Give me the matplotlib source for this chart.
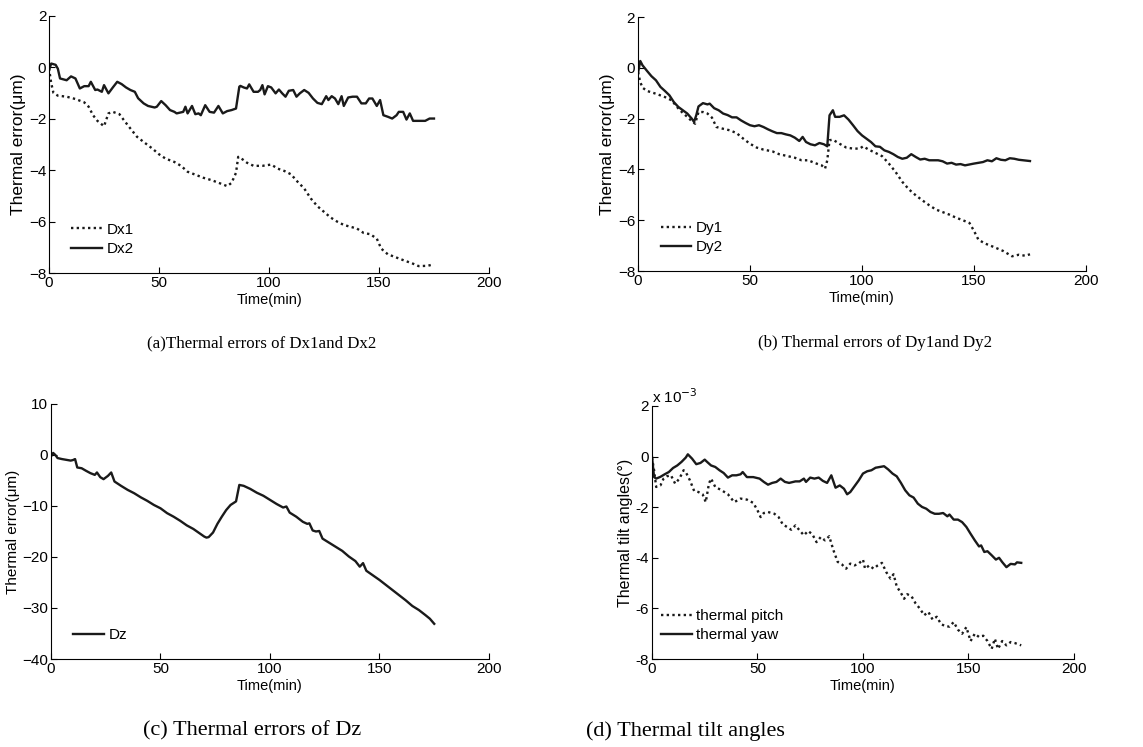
import numpy as np
import matplotlib
matplotlib.use("Agg")
import matplotlib.pyplot as plt

plt.rcParams['font.family'] = ['Liberation Sans', 'DejaVu Sans']

# === Data ===
# (a) Dx1 / Dx2, thermal error in um
t_dx1 = [0, 1, 2, 4, 8, 12, 16, 18, 20, 22, 25, 27, 29, 32, 34, 37, 40, 43, 47, 50,
         53, 57, 60, 63, 67, 70, 74, 78, 81, 83, 85, 86, 88, 90, 93, 97, 101, 104, 107, 110,
         113, 116, 119, 122, 125, 128, 131, 134, 137, 140, 143, 146, 149, 151, 154, 158, 162, 165, 168, 172, 175]
dx1 = [-0.04, -0.62, -0.99, -1.1, -1.14, -1.23, -1.36, -1.53, -1.86, -2.08, -2.29, -1.79, -1.73, -1.82, -2.05, -2.38, -2.7, -2.9, -3.16, -3.38,
       -3.55, -3.68, -3.83, -4.06, -4.19, -4.29, -4.39, -4.52, -4.62, -4.49, -4.1, -3.48, -3.58, -3.71, -3.83, -3.83, -3.78, -3.94, -4.03, -4.16,
       -4.45, -4.71, -5.1, -5.4, -5.62, -5.84, -6.0, -6.13, -6.2, -6.27, -6.44, -6.49, -6.66, -7.05, -7.27, -7.4, -7.53, -7.62, -7.73, -7.72, -7.66]

t_dx2 = [0, 1, 3, 4, 5, 8, 10, 12, 14, 16, 18, 19, 21, 22, 24, 25, 27, 29, 31, 33,
         35, 37, 39, 40.5, 43, 45, 48, 49, 51, 53, 55, 57, 58, 61, 62, 63, 65, 66.5, 68, 69,
         71, 73, 75, 77, 79, 81, 83, 85, 86.5, 87, 88.5, 90, 91, 93, 95, 96, 97, 98, 99.5, 101,
         103, 104.5, 106, 107.5, 109, 111, 112.5, 114, 116, 118, 120, 122, 124, 126, 127, 128.5, 130, 131.5, 133, 134,
         136, 138, 140, 142, 144, 145.5, 147, 149, 150.5, 152, 154, 156, 158, 159, 161, 162.5, 164, 165.5, 168, 171, 173, 175]
dx2 = [-0.1, 0.15, 0.1, -0.05, -0.43, -0.5, -0.35, -0.43, -0.82, -0.73, -0.73, -0.56, -0.88, -0.86, -0.95, -0.69, -1.01, -0.78, -0.56, -0.65,
       -0.78, -0.88, -0.95, -1.2, -1.4, -1.5, -1.56, -1.53, -1.31, -1.47, -1.66, -1.73, -1.79, -1.73, -1.53, -1.79, -1.5, -1.82, -1.79, -1.86,
       -1.47, -1.73, -1.76, -1.5, -1.79, -1.7, -1.66, -1.6, -0.75, -0.72, -0.78, -0.82, -0.66, -0.95, -0.95, -0.88, -0.69, -1.05, -0.73, -0.78,
       -1.01, -0.86, -1.01, -1.14, -0.91, -0.88, -1.14, -1.01, -0.88, -0.99, -1.21, -1.38, -1.43, -1.12, -1.27, -1.12, -1.21, -1.43, -1.12, -1.5,
       -1.17, -1.14, -1.14, -1.4, -1.4, -1.21, -1.21, -1.5, -1.27, -1.86, -1.92, -1.99, -1.86, -1.73, -1.73, -2.03, -1.79, -2.08, -2.08, -2.08, -1.99, -1.99]

# (b) Dy1 / Dy2, thermal error in um
t_dy1 = [0, 1, 2, 4, 8, 12, 15, 18, 20, 22, 24, 25.5, 27, 29, 31, 33, 35, 38, 41, 44,
         47, 50, 53, 56, 60, 63, 67, 70, 73, 76, 79, 82, 83.5, 84.5, 85.5, 87, 90, 93, 96, 99,
         100.5, 103, 106, 109, 112, 115, 118, 121, 124, 127, 130, 133, 136, 139, 142, 145, 148, 150, 152, 155,
         159, 163, 167, 170, 173, 175]
dy1 = [-0.17, -0.56, -0.78, -0.91, -1.02, -1.15, -1.28, -1.6, -1.78, -1.93, -2.1, -2.2, -1.74, -1.74, -1.8, -1.96, -2.33, -2.4, -2.46, -2.57,
       -2.79, -2.99, -3.14, -3.22, -3.29, -3.4, -3.48, -3.54, -3.64, -3.64, -3.75, -3.84, -3.97, -3.64, -2.85, -2.83, -2.99, -3.14, -3.18, -3.18,
       -3.09, -3.22, -3.35, -3.48, -3.77, -4.1, -4.49, -4.79, -5.02, -5.22, -5.41, -5.58, -5.68, -5.78, -5.9, -6.0, -6.11, -6.42, -6.77, -6.92,
       -7.06, -7.21, -7.42, -7.36, -7.4, -7.34]

t_dy2 = [0, 1, 2, 4, 6, 8, 10, 12, 14, 16, 18, 20, 22, 24, 25, 26, 27, 29, 31, 32,
         34, 36, 38, 40, 42, 44, 46, 48, 50, 52, 54, 56, 58, 60, 62, 64, 66, 68, 70, 72,
         73.5, 75, 77, 79, 81, 83, 84.5, 85.5, 87, 88, 90, 92, 94, 96, 98, 100, 102, 104, 106, 108,
         110, 112, 114, 116, 118, 120, 122, 124, 126, 128, 130, 134, 136, 138, 140, 142, 144, 146, 150, 154,
         156, 158, 160, 162, 164, 166, 168, 170, 175]
dy2 = [-0.2, 0.27, 0.1, -0.12, -0.33, -0.49, -0.75, -0.91, -1.08, -1.35, -1.54, -1.67, -1.8, -2.0, -2.13, -1.87, -1.52, -1.39, -1.44, -1.41,
       -1.59, -1.67, -1.8, -1.86, -1.95, -1.95, -2.07, -2.17, -2.26, -2.3, -2.26, -2.33, -2.42, -2.5, -2.57, -2.57, -2.62, -2.66, -2.75, -2.88,
       -2.72, -2.92, -3.01, -3.05, -2.96, -3.01, -3.09, -1.87, -1.67, -1.93, -1.93, -1.87, -2.04, -2.26, -2.49, -2.66, -2.79, -2.92, -3.09, -3.11,
       -3.25, -3.31, -3.4, -3.51, -3.58, -3.54, -3.4, -3.51, -3.61, -3.58, -3.64, -3.64, -3.68, -3.77, -3.74, -3.81, -3.79, -3.84, -3.77, -3.71,
       -3.64, -3.68, -3.56, -3.62, -3.64, -3.56, -3.58, -3.62, -3.67]

# (c) Dz, thermal error in um
t_dz = [0, 1, 2, 3, 5, 7, 9, 10, 11, 12, 14, 16, 18, 20, 21, 22.5, 24, 26, 27.5, 29,
        32, 35, 38, 41, 44, 47, 50, 53, 56, 59, 62, 65, 68, 70, 71, 72, 74, 76, 78, 80,
        82, 84.5, 86, 88, 91, 94, 97, 100, 103, 106, 107.5, 109, 112, 115, 117, 118, 119.5, 121, 122.5, 124,
        127, 130, 133, 136, 139, 141, 142.5, 144, 147, 150, 153, 156, 159, 162, 165, 168, 171, 173, 175]
dz = [-0.3, 0.4, 0.0, -0.6, -0.8, -0.95, -1.1, -1.0, -0.8, -2.45, -2.6, -3.1, -3.56, -3.9, -3.43, -4.35, -4.74, -4.1, -3.43, -5.2,
      -6.05, -6.84, -7.5, -8.3, -9.0, -9.8, -10.45, -11.4, -12.1, -12.9, -13.8, -14.5, -15.4, -16.0, -16.2, -16.1, -15.2, -13.5, -12.1, -10.8,
      -9.8, -9.1, -5.87, -6.05, -6.65, -7.4, -8.0, -8.8, -9.6, -10.3, -10.1, -11.3, -12.1, -13.1, -13.5, -13.4, -14.8, -15.0, -14.9, -16.4,
      -17.2, -18.0, -18.8, -19.9, -20.8, -21.9, -21.2, -22.7, -23.6, -24.5, -25.5, -26.5, -27.5, -28.5, -29.6, -30.4, -31.4, -32.1, -33.1]

# (d) tilt angles, in units of 1e-3 degree
t_pitch = [0, 1, 2, 4, 5.5, 7, 9, 11, 13, 15, 16, 18, 20, 22, 24, 25.5, 27, 28, 30, 33,
           36, 39, 42, 45, 48, 50, 51.5, 53, 55, 58, 60, 62, 64, 66, 68, 70, 72, 74, 76, 78,
           80, 82, 84, 86, 88, 90, 92, 94, 96, 98, 100, 101, 103, 105, 107, 109, 111, 113, 114.5, 116,
           118, 119.5, 121, 123, 125, 127, 129, 131, 133, 135, 137, 139, 141, 143, 145, 147, 149, 151, 153, 155,
           157, 159, 161, 162.5, 164, 166, 168, 170, 172, 175]
pitch = [-0.04, -0.54, -1.2, -1.14, -0.87, -0.78, -0.74, -1.07, -0.87, -0.54, -0.61, -0.94, -1.36, -1.4, -1.49, -1.8, -1.07, -0.87, -1.2, -1.33,
         -1.49, -1.8, -1.66, -1.7, -1.83, -2.12, -2.39, -2.23, -2.19, -2.26, -2.39, -2.68, -2.78, -2.89, -2.72, -2.92, -3.11, -2.94, -3.07, -3.38,
         -3.18, -3.31, -3.15, -3.7, -4.16, -4.26, -4.43, -4.23, -4.3, -4.23, -4.07, -4.43, -4.3, -4.43, -4.3, -4.2, -4.56, -4.82, -4.65, -5.13,
         -5.39, -5.62, -5.44, -5.52, -5.81, -6.01, -6.27, -6.14, -6.44, -6.33, -6.62, -6.7, -6.72, -6.54, -6.84, -7.0, -6.74, -7.29, -7.0, -7.13,
         -7.08, -7.29, -7.6, -7.2, -7.6, -7.29, -7.46, -7.33, -7.37, -7.46]

t_yaw = [0, 1, 2, 4, 6, 8, 10, 12, 14, 16, 17, 19, 21, 23, 25, 26, 28, 30, 32, 34,
         36, 38, 40, 42, 43, 45, 48, 51, 53, 55, 57, 59, 61, 63, 65, 68, 70, 72, 73, 75,
         77, 79, 81, 83, 85, 87, 89, 91, 92.5, 94, 96, 98, 100, 102, 104, 106, 108, 110, 112, 114,
         116, 118, 120, 122, 124, 126, 128, 130, 132, 134, 136, 138, 140, 141, 143, 145, 147, 149, 151, 153,
         155, 156, 157.5, 159, 161, 163, 164.5, 166, 168, 170, 172, 173, 175]
yaw = [0.0, -0.81, -0.87, -0.8, -0.7, -0.61, -0.45, -0.35, -0.21, -0.04, 0.09, -0.08, -0.3, -0.25, -0.12, -0.2, -0.35, -0.41, -0.54, -0.65,
       -0.83, -0.74, -0.74, -0.7, -0.61, -0.81, -0.81, -0.87, -1.0, -1.11, -1.04, -1.0, -0.87, -1.0, -1.04, -0.98, -0.98, -0.87, -1.0, -0.83,
       -0.87, -0.83, -0.96, -1.04, -0.74, -1.23, -1.14, -1.27, -1.49, -1.4, -1.17, -0.94, -0.67, -0.58, -0.54, -0.44, -0.41, -0.38, -0.51, -0.67,
       -0.78, -1.04, -1.33, -1.53, -1.62, -1.86, -1.99, -2.06, -2.19, -2.26, -2.26, -2.23, -2.36, -2.29, -2.49, -2.49, -2.59, -2.78, -3.05, -3.31,
       -3.55, -3.51, -3.77, -3.74, -3.9, -4.07, -4.0, -4.17, -4.37, -4.24, -4.26, -4.18, -4.2]

x_ticks = [0, 50, 100, 150, 200]
err_ticks = [-8, -6, -4, -2, 0, 2]
dz_ticks = [-40, -30, -20, -10, 0, 10]

DOT = (0, (1, 1.4))
LW = 1.7


def style_axes(ax, yticks, ylabel, ylabel_size):
    ax.set_xlim(0, 200)
    ax.set_ylim(yticks[0], yticks[-1])
    ax.set_xticks(x_ticks)
    ax.set_yticks(yticks)
    ax.spines['top'].set_visible(False)
    ax.spines['right'].set_visible(False)
    ax.tick_params(direction='in', length=4, labelsize=11, pad=2)
    ax.set_xlabel("Time(min)", fontsize=10.5, labelpad=2)
    ax.set_ylabel(ylabel, fontsize=ylabel_size, labelpad=2)


fig = plt.figure(figsize=(11.43, 7.47), dpi=100)

ax_a = fig.add_axes([0.0429, 0.6345, 0.3849, 0.3441])
ax_a.plot(t_dx1, dx1, color='#1a1a1a', lw=LW, ls=DOT, label='Dx1')
ax_a.plot(t_dx2, dx2, color='#1a1a1a', lw=LW, label='Dx2')
style_axes(ax_a, err_ticks, "Thermal error(\u03bcm)", 12.5)

ax_b = fig.add_axes([0.5582, 0.6372, 0.3919, 0.3400])
ax_b.plot(t_dy1, dy1, color='#1a1a1a', lw=LW, ls=DOT, label='Dy1')
ax_b.plot(t_dy2, dy2, color='#1a1a1a', lw=LW, label='Dy2')
style_axes(ax_b, err_ticks, "Thermal error(\u03bcm)", 12.5)

ax_c = fig.add_axes([0.0446, 0.1178, 0.3832, 0.3414])
ax_c.plot(t_dz, dz, color='#1a1a1a', lw=LW, label='Dz')
style_axes(ax_c, dz_ticks, "Thermal error(\u03bcm)", 11)

ax_d = fig.add_axes([0.5704, 0.1178, 0.3692, 0.3387])
ax_d.plot(t_pitch, np.array(pitch) * 1e-3, color='#1a1a1a', lw=LW, ls=DOT, label='thermal pitch')
ax_d.plot(t_yaw, np.array(yaw) * 1e-3, color='#1a1a1a', lw=LW, label='thermal yaw')
style_axes(ax_d, [v * 1e-3 for v in err_ticks], "Thermal tilt angles(\u00b0)", 11.5)
ax_d.set_yticklabels([str(v) for v in err_ticks])
ax_d.text(0.0, 1.0, "x 10$^{-3}$", transform=ax_d.transAxes, fontsize=11,
          ha='left', va='bottom')

for ax, dx in ((ax_a, 0.03), (ax_b, 0.03), (ax_c, 0.03), (ax_d, 0.0)):
    ax.legend(loc='lower left', bbox_to_anchor=(dx, 0.03), frameon=False,
              fontsize=11, handlelength=2.0, handletextpad=0.3, labelspacing=0.35,
              borderaxespad=0.2)

serif = ['Liberation Serif', 'DejaVu Serif']
fig.text(262 / 1143, 1 - 343 / 747, "(a)Thermal errors of Dx1and Dx2", family=serif,
         fontsize=12.2, ha='center', va='center')
fig.text(875 / 1143, 1 - 343 / 747, "(b) Thermal errors of Dy1and Dy2", family=serif,
         fontsize=12.2, ha='center', va='center')
fig.text(252 / 1143, 1 - 731 / 747, "(c) Thermal errors of Dz", family=serif,
         fontsize=16, ha='center', va='center')
fig.text(586 / 1143, 1 - 731 / 747, "(d) Thermal tilt angles", family=serif,
         fontsize=16, ha='left', va='center')

fig.savefig("out.png", dpi=100)
